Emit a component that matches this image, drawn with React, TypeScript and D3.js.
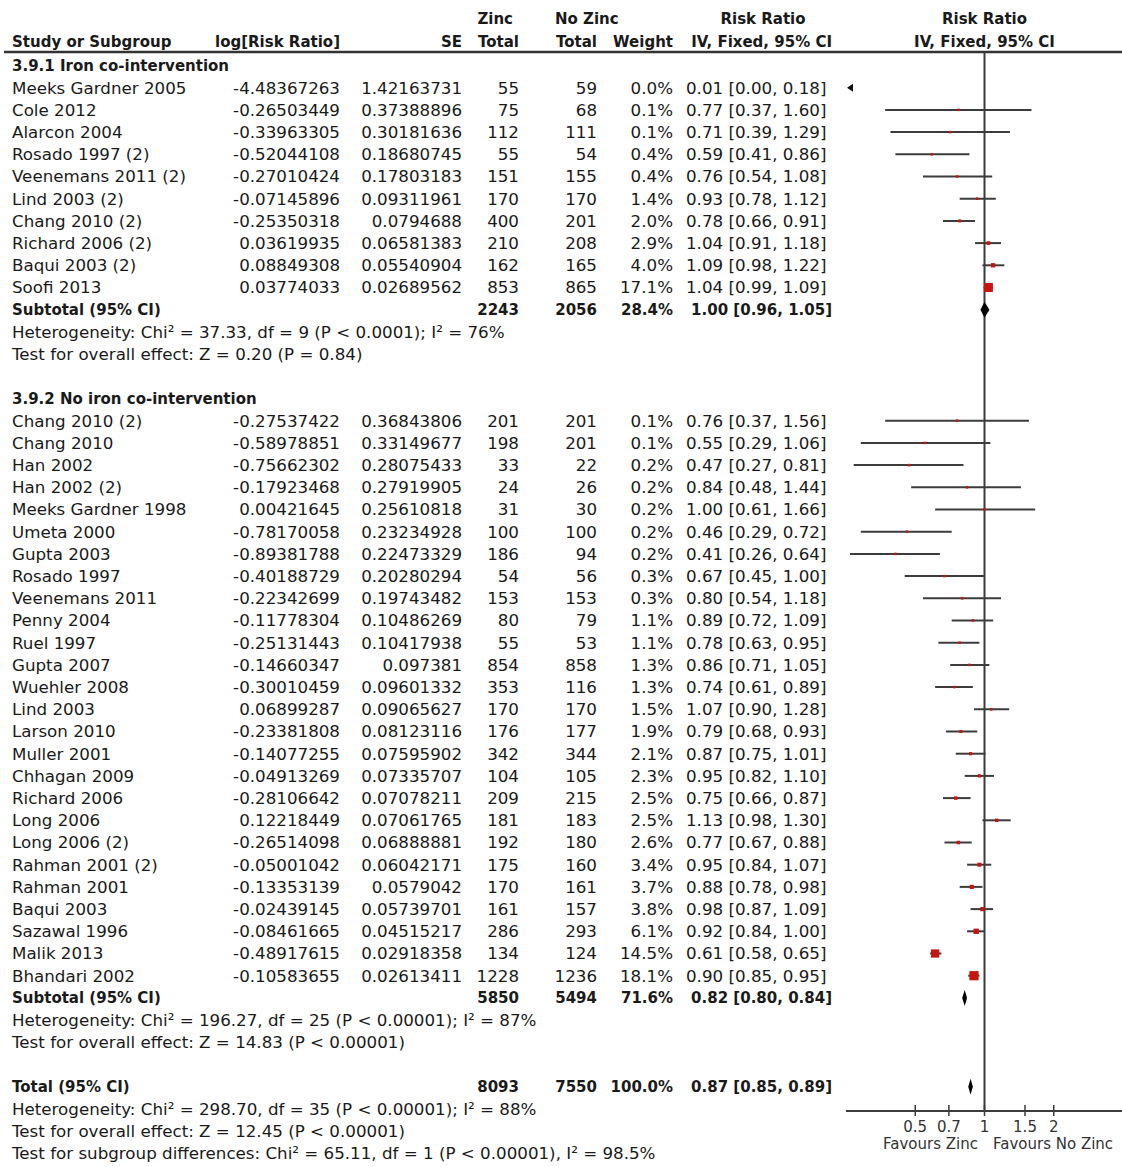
import React from 'react';
import * as d3 from 'd3';

// ---- data ----
const ironStudies = ['Meeks Gardner 2005', 'Cole 2012', 'Alarcon 2004', 'Rosado 1997 (2)', 'Veenemans 2011 (2)', 'Lind 2003 (2)', 'Chang 2010 (2)', 'Richard 2006 (2)', 'Baqui 2003 (2)', 'Soofi 2013'];
const ironLogRR = [-4.48367263, -0.26503449, -0.33963305, -0.52044108, -0.27010424, -0.07145896, -0.25350318, 0.03619935, 0.08849308, 0.03774033];
const ironSE = [1.42163731, 0.37388896, 0.30181636, 0.18680745, 0.17803183, 0.09311961, 0.0794688, 0.06581383, 0.05540904, 0.02689562];
const ironZinc = [55, 75, 112, 55, 151, 170, 400, 210, 162, 853];
const ironNoZinc = [59, 68, 111, 54, 155, 170, 201, 208, 165, 865];
const ironWeight = [0.0, 0.1, 0.1, 0.4, 0.4, 1.4, 2.0, 2.9, 4.0, 17.1];
const ironRR = [0.01, 0.77, 0.71, 0.59, 0.76, 0.93, 0.78, 1.04, 1.09, 1.04];
const ironLo = [0.0, 0.37, 0.39, 0.41, 0.54, 0.78, 0.66, 0.91, 0.98, 0.99];
const ironHi = [0.18, 1.6, 1.29, 0.86, 1.08, 1.12, 0.91, 1.18, 1.22, 1.09];

const noIronStudies = ['Chang 2010 (2)', 'Chang 2010', 'Han 2002', 'Han 2002 (2)', 'Meeks Gardner 1998', 'Umeta 2000', 'Gupta 2003', 'Rosado 1997', 'Veenemans 2011', 'Penny 2004', 'Ruel 1997', 'Gupta 2007', 'Wuehler 2008', 'Lind 2003', 'Larson 2010', 'Muller 2001', 'Chhagan 2009', 'Richard 2006', 'Long 2006', 'Long 2006 (2)', 'Rahman 2001 (2)', 'Rahman 2001', 'Baqui 2003', 'Sazawal 1996', 'Malik 2013', 'Bhandari 2002'];
const noIronLogRR = [-0.27537422, -0.58978851, -0.75662302, -0.17923468, 0.00421645, -0.78170058, -0.89381788, -0.40188729, -0.22342699, -0.11778304, -0.25131443, -0.14660347, -0.30010459, 0.06899287, -0.23381808, -0.14077255, -0.04913269, -0.28106642, 0.12218449, -0.26514098, -0.05001042, -0.13353139, -0.02439145, -0.08461665, -0.48917615, -0.10583655];
const noIronSE = [0.36843806, 0.33149677, 0.28075433, 0.27919905, 0.25610818, 0.23234928, 0.22473329, 0.20280294, 0.19743482, 0.10486269, 0.10417938, 0.097381, 0.09601332, 0.09065627, 0.08123116, 0.07595902, 0.07335707, 0.07078211, 0.07061765, 0.06888881, 0.06042171, 0.0579042, 0.05739701, 0.04515217, 0.02918358, 0.02613411];
const noIronZinc = [201, 198, 33, 24, 31, 100, 186, 54, 153, 80, 55, 854, 353, 170, 176, 342, 104, 209, 181, 192, 175, 170, 161, 286, 134, 1228];
const noIronNoZinc = [201, 201, 22, 26, 30, 100, 94, 56, 153, 79, 53, 858, 116, 170, 177, 344, 105, 215, 183, 180, 160, 161, 157, 293, 124, 1236];
const noIronWeight = [0.1, 0.1, 0.2, 0.2, 0.2, 0.2, 0.2, 0.3, 0.3, 1.1, 1.1, 1.3, 1.3, 1.5, 1.9, 2.1, 2.3, 2.5, 2.5, 2.6, 3.4, 3.7, 3.8, 6.1, 14.5, 18.1];
const noIronRR = [0.76, 0.55, 0.47, 0.84, 1.0, 0.46, 0.41, 0.67, 0.8, 0.89, 0.78, 0.86, 0.74, 1.07, 0.79, 0.87, 0.95, 0.75, 1.13, 0.77, 0.95, 0.88, 0.98, 0.92, 0.61, 0.9];
const noIronLo = [0.37, 0.29, 0.27, 0.48, 0.61, 0.29, 0.26, 0.45, 0.54, 0.72, 0.63, 0.71, 0.61, 0.9, 0.68, 0.75, 0.82, 0.66, 0.98, 0.67, 0.84, 0.78, 0.87, 0.84, 0.58, 0.85];
const noIronHi = [1.56, 1.06, 0.81, 1.44, 1.66, 0.72, 0.64, 1.0, 1.18, 1.09, 0.95, 1.05, 0.89, 1.28, 0.93, 1.01, 1.1, 0.87, 1.3, 0.88, 1.07, 0.98, 1.09, 1.0, 0.65, 0.95];

const groupTitles = ['3.9.1 Iron co-intervention', '3.9.2 No iron co-intervention'];
const subtotalZinc = [2243, 5850];
const subtotalNoZinc = [2056, 5494];
const subtotalWeight = [28.4, 71.6];
const subtotalRR = [1.0, 0.82];
const subtotalLo = [0.96, 0.8];
const subtotalHi = [1.05, 0.84];
const subtotalHeterogeneity = [
  'Heterogeneity: Chi² = 37.33, df = 9 (P < 0.0001); I² = 76%',
  'Heterogeneity: Chi² = 196.27, df = 25 (P < 0.00001); I² = 87%',
];
const subtotalEffect = [
  'Test for overall effect: Z = 0.20 (P = 0.84)',
  'Test for overall effect: Z = 14.83 (P < 0.00001)',
];

const totalZinc = 8093;
const totalNoZinc = 7550;
const totalWeight = 100.0;
const totalRR = 0.87;
const totalLo = 0.85;
const totalHi = 0.89;
const totalNotes = [
  'Heterogeneity: Chi² = 298.70, df = 35 (P < 0.00001); I² = 88%',
  'Test for overall effect: Z = 12.45 (P < 0.00001)',
  'Test for subgroup differences: Chi² = 65.11, df = 1 (P < 0.00001), I² = 98.5%',
];

const axisTicks = [0.5, 0.7, 1, 1.5, 2];

// ---- layout ----
const W = 1122;
const H = 1167;
const FONT = 'DejaVu Sans';
const REG = 16.7;
const BOLD = 15;

type Row =
  | { kind: 'group'; idx: number; text: string }
  | { kind: 'study'; idx: number; name: string; logRR: number; se: number; zinc: number; noZinc: number; weight: number; rr: number; lo: number; hi: number }
  | { kind: 'summary'; idx: number; label: string; zinc: number; noZinc: number; weight: number; rr: number; lo: number; hi: number }
  | { kind: 'note'; idx: number; text: string };

const groups = [
  { names: ironStudies, logRR: ironLogRR, se: ironSE, zinc: ironZinc, noZinc: ironNoZinc, weight: ironWeight, rr: ironRR, lo: ironLo, hi: ironHi },
  { names: noIronStudies, logRR: noIronLogRR, se: noIronSE, zinc: noIronZinc, noZinc: noIronNoZinc, weight: noIronWeight, rr: noIronRR, lo: noIronLo, hi: noIronHi },
];

const rows: Row[] = [];
let idx = 0;
groups.forEach((g, gi) => {
  rows.push({ kind: 'group', idx: idx++, text: groupTitles[gi] });
  g.names.forEach((name, i) => {
    rows.push({ kind: 'study', idx: idx++, name, logRR: g.logRR[i], se: g.se[i], zinc: g.zinc[i], noZinc: g.noZinc[i], weight: g.weight[i], rr: g.rr[i], lo: g.lo[i], hi: g.hi[i] });
  });
  rows.push({ kind: 'summary', idx: idx++, label: 'Subtotal (95% CI)', zinc: subtotalZinc[gi], noZinc: subtotalNoZinc[gi], weight: subtotalWeight[gi], rr: subtotalRR[gi], lo: subtotalLo[gi], hi: subtotalHi[gi] });
  rows.push({ kind: 'note', idx: idx++, text: subtotalHeterogeneity[gi] });
  rows.push({ kind: 'note', idx: idx++, text: subtotalEffect[gi] });
  idx++; // blank line
});
rows.push({ kind: 'summary', idx: idx++, label: 'Total (95% CI)', zinc: totalZinc, noZinc: totalNoZinc, weight: totalWeight, rr: totalRR, lo: totalLo, hi: totalHi });
totalNotes.forEach(t => rows.push({ kind: 'note', idx: idx++, text: t }));

const lastIdx = idx - 1;
const y = d3.scaleLinear().domain([0, lastIdx]).range([65.5, 65.5 + lastIdx * 22.2]);
const x = d3.scaleLog().domain([0.25, 4]).range([846, 1123]);
const size = d3.scaleSqrt().domain([0, 18.1]).range([0, 9.2]);

const headerY1 = 19;
const headerY2 = 42;
const ruleY = 52;
const axisY = 1111;

const col = { name: 12, logRR: 340, se: 462, zinc: 519, noZinc: 597, weight: 673, ci: 686, ciBoldEnd: 832 };

const fmtCI = (rr: number, lo: number, hi: number) => `${rr.toFixed(2)} [${lo.toFixed(2)}, ${hi.toFixed(2)}]`;
const fmtW = (w: number) => `${w.toFixed(1)}%`;

const ink = '#1a1a1a';
const lineInk = '#3c3c3c';
const red = '#c8140f';

function StudyMarks({ r }: { r: Extract<Row, { kind: 'study' }> }) {
  const [x0, x1] = x.range();
  const cy = y(r.idx);
  if (r.hi < x.domain()[0]) {
    const ax = x0 + 1;
    return <path d={`M${ax},${cy} L${ax + 6},${cy - 4} L${ax + 6},${cy + 4} Z`} fill="#111" />;
  }
  const lx = Math.max(x0, x(r.lo));
  const rx = Math.min(x1, x(r.hi));
  const s = Math.max(2.5, size(r.weight));
  const cx = x(r.rr);
  return (
    <g>
      <line x1={lx} x2={rx} y1={cy} y2={cy} stroke={lineInk} strokeWidth={2} />
      <rect x={cx - s / 2} y={cy - s / 2} width={s} height={s} fill={red} />
    </g>
  );
}

function Diamond({ r }: { r: Extract<Row, { kind: 'summary' }> }) {
  const cy = y(r.idx);
  const h = 8;
  const d = `M${x(r.lo)},${cy} L${x(r.rr)},${cy - h} L${x(r.hi)},${cy} L${x(r.rr)},${cy + h} Z`;
  return <path d={d} fill="#000" />;
}

export default function App() {
  const txt = (props: any, children: React.ReactNode, bold = false) => (
    <text
      dy="0.35em"
      fontFamily={FONT}
      fontSize={bold ? BOLD : REG}
      fontWeight={bold ? 'bold' : 'normal'}
      fill={ink}
      {...props}
    >
      {children}
    </text>
  );

  return (
    <svg width={W} height={H} style={{ position: 'absolute', left: 0, top: 0, background: '#fff' }}>
      <rect width={W} height={H} fill="#fff" />

      {/* column headers */}
      {txt({ x: 513, y: headerY1, textAnchor: 'end' }, 'Zinc', true)}
      {txt({ x: 555, y: headerY1 }, 'No Zinc', true)}
      {txt({ x: 763, y: headerY1, textAnchor: 'middle' }, 'Risk Ratio', true)}
      {txt({ x: x(1), y: headerY1, textAnchor: 'middle' }, 'Risk Ratio', true)}
      {txt({ x: col.name, y: headerY2 }, 'Study or Subgroup', true)}
      {txt({ x: 215, y: headerY2 }, 'log[Risk Ratio]', true)}
      {txt({ x: 462, y: headerY2, textAnchor: 'end' }, 'SE', true)}
      {txt({ x: col.zinc, y: headerY2, textAnchor: 'end' }, 'Total', true)}
      {txt({ x: col.noZinc, y: headerY2, textAnchor: 'end' }, 'Total', true)}
      {txt({ x: col.weight, y: headerY2, textAnchor: 'end' }, 'Weight', true)}
      {txt({ x: col.ciBoldEnd, y: headerY2, textAnchor: 'end' }, 'IV, Fixed, 95% CI', true)}
      {txt({ x: x(1), y: headerY2, textAnchor: 'middle' }, 'IV, Fixed, 95% CI', true)}

      <line x1={4} x2={W} y1={ruleY} y2={ruleY} stroke="#333" strokeWidth={2.5} />

      {/* vertical no-effect line */}
      <line x1={x(1)} x2={x(1)} y1={ruleY} y2={axisY} stroke={lineInk} strokeWidth={2} />

      {rows.map((r, i) => {
        const cy = y(r.idx);
        if (r.kind === 'group') return <g key={i}>{txt({ x: col.name, y: cy }, r.text, true)}</g>;
        if (r.kind === 'note') return <g key={i}>{txt({ x: col.name, y: cy }, r.text)}</g>;
        if (r.kind === 'study')
          return (
            <g key={i}>
              {txt({ x: col.name, y: cy }, r.name)}
              {txt({ x: col.logRR, y: cy, textAnchor: 'end' }, String(r.logRR))}
              {txt({ x: col.se, y: cy, textAnchor: 'end' }, String(r.se))}
              {txt({ x: col.zinc, y: cy, textAnchor: 'end' }, String(r.zinc))}
              {txt({ x: col.noZinc, y: cy, textAnchor: 'end' }, String(r.noZinc))}
              {txt({ x: col.weight, y: cy, textAnchor: 'end' }, fmtW(r.weight))}
              {txt({ x: col.ci, y: cy }, fmtCI(r.rr, r.lo, r.hi))}
              <StudyMarks r={r} />
            </g>
          );
        return (
          <g key={i}>
            {txt({ x: col.name, y: cy }, r.label, true)}
            {txt({ x: col.zinc, y: cy, textAnchor: 'end' }, String(r.zinc), true)}
            {txt({ x: col.noZinc, y: cy, textAnchor: 'end' }, String(r.noZinc), true)}
            {txt({ x: col.weight, y: cy, textAnchor: 'end' }, fmtW(r.weight), true)}
            {txt({ x: col.ciBoldEnd, y: cy, textAnchor: 'end' }, fmtCI(r.rr, r.lo, r.hi), true)}
            <Diamond r={r} />
          </g>
        );
      })}

      {/* axis */}
      <line x1={x.range()[0]} x2={x.range()[1]} y1={axisY} y2={axisY} stroke={lineInk} strokeWidth={2} />
      {axisTicks.map(t => (
        <g key={t}>
          <line x1={x(t)} x2={x(t)} y1={axisY - 6} y2={axisY + 5} stroke={lineInk} strokeWidth={1.5} />
          <text x={x(t)} y={axisY + 16} dy="0.35em" textAnchor="middle" fontFamily={FONT} fontSize={15} fill="#333">
            {String(t)}
          </text>
        </g>
      ))}
      <text x={978} y={axisY + 33} dy="0.35em" textAnchor="end" fontFamily={FONT} fontSize={15} fill="#333">Favours Zinc</text>
      <text x={993} y={axisY + 33} dy="0.35em" fontFamily={FONT} fontSize={15} fill="#333">Favours No Zinc</text>
    </svg>
  );
}
